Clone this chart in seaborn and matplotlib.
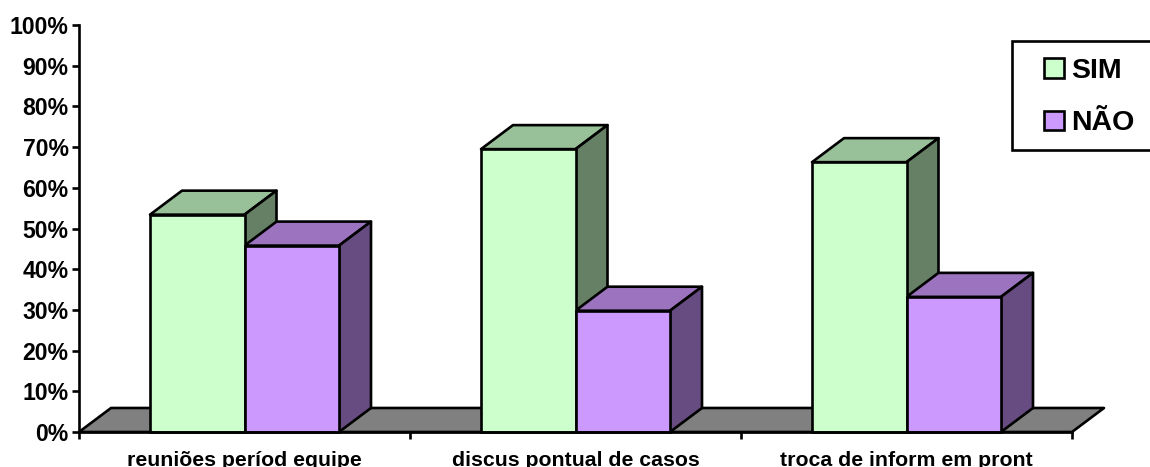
import pandas as pd
import matplotlib.pyplot as plt
import seaborn as sns
from matplotlib.patches import Polygon, Rectangle
from matplotlib.ticker import FixedLocator

# Values
categorias = ['reuniões períod equipe', 'discus pontual de casos', 'troca de inform em pront']
sim = [53.4, 69.5, 66.3]
nao = [45.8, 29.8, 33.2]
y_ticks = [0, 10, 20, 30, 40, 50, 60, 70, 80, 90, 100]
y_labels = ['0%', '10%', '20%', '30%', '40%', '50%', '60%', '70%', '80%', '90%', '100%']

# Face colours: front, top, side
cores = {'SIM': ('#CCFFCC', '#99C199', '#668066'),
         'NÃO': ('#CC99FF', '#9C73BF', '#664C80')}

# 3D look: how far the back of a bar is shifted (category units / percent)
depth_x = 32 / 331
depth_y = 5.9
edge = 1.9

data = pd.DataFrame({
    'categoria': categorias * 2,
    'valor': sim + nao,
    'serie': ['SIM'] * 3 + ['NÃO'] * 3,
})

sns.set_theme(style='white')
plt.rcParams['font.family'] = ['Liberation Sans', 'DejaVu Sans']
plt.rcParams['font.weight'] = 'bold'
plt.rcParams['text.color'] = 'black'

W, H = 1150, 467
fig = plt.figure(figsize=(W / 100, H / 100), dpi=100)
ax = fig.add_axes([79 / W, (H - 432) / H, (1072 - 79) / W, (432 - 25) / H])
ax.patch.set_alpha(0)

sns.barplot(data=data, x='categoria', y='valor', hue='serie', order=categorias,
            hue_order=['SIM', 'NÃO'], palette={k: v[0] for k, v in cores.items()},
            saturation=1, width=0.571, gap=0, edgecolor='black', linewidth=edge,
            errorbar=None, ax=ax)

ax.set_xlim(-0.5, 2.5)
ax.set_ylim(0, 100)

# Grey floor behind the bars
ax.add_patch(Polygon([(-0.5, 0), (-0.5 + depth_x, depth_y), (2.5 + depth_x, depth_y), (2.5, 0)],
                     facecolor='#808080', edgecolor='black', linewidth=edge,
                     joinstyle='round', clip_on=False, zorder=1))

# Top and side faces, taken from the bars seaborn drew
for z, (serie, container) in enumerate(zip(['SIM', 'NÃO'], ax.containers)):
    _, topo, lado = cores[serie]
    for bar in container:
        x0, x1 = bar.get_x(), bar.get_x() + bar.get_width()
        h = bar.get_height()
        ax.add_patch(Polygon([(x0, h), (x0 + depth_x, h + depth_y), (x1 + depth_x, h + depth_y), (x1, h)],
                             facecolor=topo, edgecolor='black', linewidth=edge,
                             joinstyle='round', clip_on=False, zorder=3 + z))
        ax.add_patch(Polygon([(x1, 0), (x1 + depth_x, depth_y), (x1 + depth_x, h + depth_y), (x1, h)],
                             facecolor=lado, edgecolor='black', linewidth=edge,
                             joinstyle='round', clip_on=False, zorder=3 + z))
        bar.set_zorder(5)
        bar.set_clip_on(False)

# Axes
sns.despine(ax=ax, top=True, right=True)
for side in ['left', 'bottom']:
    ax.spines[side].set_linewidth(edge)
    ax.spines[side].set_color('black')
    ax.spines[side].set_zorder(6)
    ax.spines[side].set_capstyle('projecting')

ax.set_xlabel('')
ax.set_ylabel('')
ax.set_yticks(y_ticks)
ax.set_yticklabels(y_labels, fontsize=16.6, fontweight='bold', color='black')
ax.tick_params(axis='y', which='major', left=True, length=5, width=edge, pad=2.5, color='black')

# Ticks sit between the categories, labels in the middle of each one
ax.xaxis.set_major_locator(FixedLocator([-0.5, 0.5, 1.5, 2.5]))
ax.xaxis.set_minor_locator(FixedLocator([0, 1, 2]))
ax.set_xticklabels(['', '', '', ''])
ax.set_xticklabels(categorias, minor=True, fontsize=15.3, fontweight='bold', color='black')
ax.tick_params(axis='x', which='major', bottom=True, length=5, width=edge, color='black')
ax.tick_params(axis='x', which='minor', bottom=False, length=0, pad=13.5)

# Legend box runs off the right edge of the picture
fig.add_artist(Rectangle((1012 / W, (H - 150) / H), 200 / W, 109 / H, transform=fig.transFigure,
                         facecolor='white', edgecolor='black', linewidth=edge, zorder=7))
handles, labels = ax.get_legend_handles_labels()
ax.get_legend().remove()
leg = fig.legend(handles, labels, loc='upper left', bbox_to_anchor=(1044 / W, (H - 58) / H),
                 frameon=False, prop={'size': 20.5, 'weight': 'bold'},
                 handlelength=0.7, handleheight=0.7, handletextpad=0.24,
                 labelspacing=0.93, borderpad=0, borderaxespad=0)
leg.set_zorder(8)
for h in leg.get_patches():
    h.set_linewidth(edge)
    h.set_edgecolor('black')

fig.savefig('out.png', dpi=100)
